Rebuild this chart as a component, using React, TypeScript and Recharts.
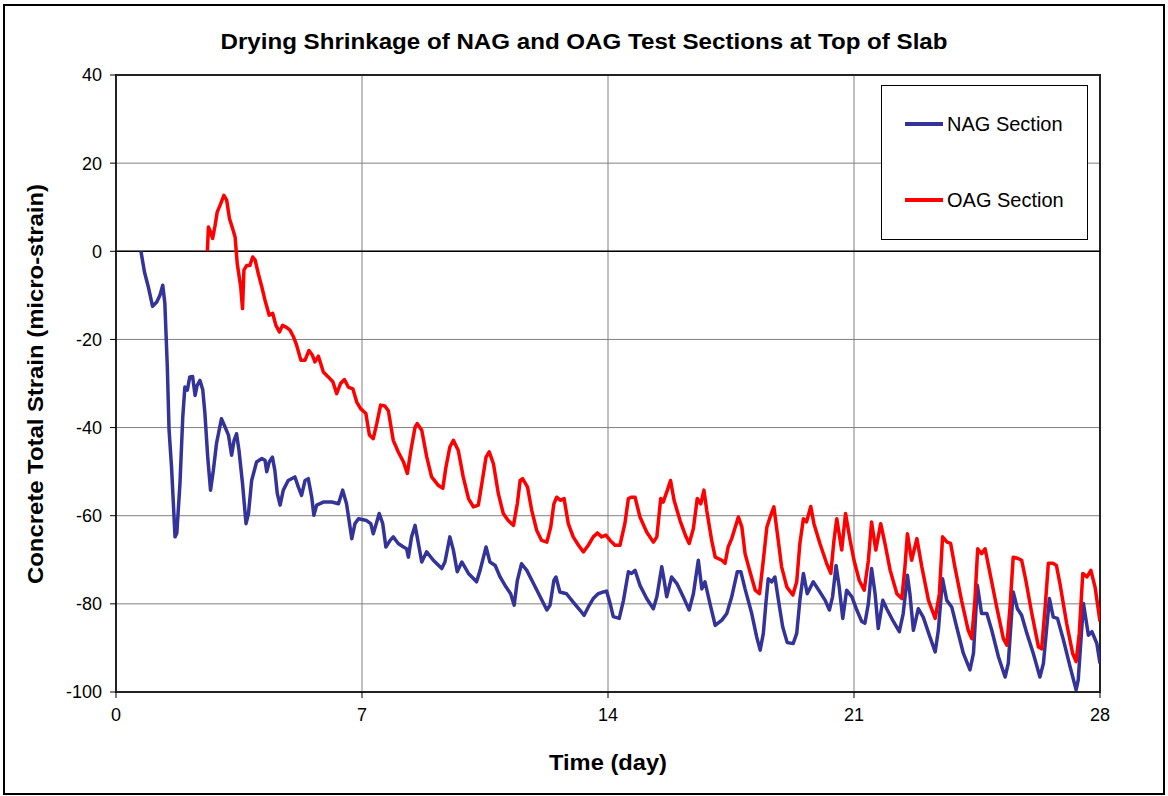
import React from 'react';
import { LineChart, Line, XAxis, YAxis, CartesianGrid, ReferenceLine, ReferenceArea, Legend } from 'recharts';

const nagDays = [
  0.71, 0.81, 0.92, 1.04, 1.16, 1.25, 1.33, 1.39, 1.46, 1.51, 1.58, 1.68, 1.73, 1.82, 1.9, 1.96, 2.03, 2.1, 2.18, 2.25,
  2.31, 2.39, 2.47, 2.53, 2.61, 2.69, 2.77, 2.86, 3.0, 3.1, 3.2, 3.29, 3.36, 3.43, 3.5, 3.6, 3.7, 3.77, 3.86, 4.0,
  4.15, 4.24, 4.29, 4.36, 4.45, 4.52, 4.59, 4.67, 4.76, 4.9, 5.09, 5.19, 5.28, 5.38, 5.47, 5.57, 5.63, 5.71, 5.9, 6.14,
  6.33, 6.45, 6.56, 6.71, 6.8, 6.9, 7.13, 7.25, 7.32, 7.42, 7.49, 7.59, 7.68, 7.8, 7.89, 8.03, 8.18, 8.27, 8.32, 8.41,
  8.51, 8.57, 8.7, 8.84, 9.03, 9.27, 9.36, 9.5, 9.6, 9.71, 9.84, 10.03, 10.26, 10.36, 10.53, 10.64, 10.79, 10.93, 11.1, 11.23,
  11.33, 11.42, 11.54, 11.69, 11.88, 12.07, 12.26, 12.35, 12.46, 12.52, 12.63, 12.82, 13.01, 13.2, 13.32, 13.44, 13.58, 13.72, 13.87, 13.96,
  14.06, 14.15, 14.32, 14.44, 14.58, 14.67, 14.77, 14.91, 15.1, 15.29, 15.39, 15.53, 15.59, 15.67, 15.81, 15.96, 16.14, 16.31, 16.43, 16.57,
  16.67, 16.76, 16.9, 17.05, 17.24, 17.38, 17.52, 17.68, 17.78, 17.9, 18.09, 18.23, 18.33, 18.42, 18.5, 18.56, 18.66, 18.75, 18.85, 18.97,
  19.1, 19.27, 19.37, 19.46, 19.56, 19.67, 19.84, 20.03, 20.18, 20.3, 20.39, 20.49, 20.58, 20.68, 20.79, 20.94, 21.08, 21.22, 21.31, 21.41,
  21.5, 21.6, 21.69, 21.82, 21.93, 22.12, 22.29, 22.4, 22.52, 22.59, 22.69, 22.83, 22.97, 23.16, 23.31, 23.4, 23.52, 23.64, 23.78, 23.92,
  24.11, 24.3, 24.4, 24.51, 24.63, 24.78, 24.92, 25.11, 25.3, 25.39, 25.53, 25.65, 25.77, 25.92, 26.1, 26.29, 26.39, 26.56, 26.67, 26.79,
  26.96, 27.15, 27.32, 27.38, 27.53, 27.67, 27.77, 27.91, 28.0,
];
const nagStrain = [
  0, -4.7, -8.1, -12.5, -11.5, -10, -7.7, -11.8, -26.2, -40.6, -48.9, -64.8, -64, -52.7, -37.6, -30.8, -31.5, -28.5, -28.4, -32.7,
  -30.4, -29.3, -31.5, -36.8, -46.7, -54.2, -49.7, -43.6, -38, -39.8, -41.7, -46.3, -42.9, -41.4, -45.2, -52.7, -61.8, -59.5, -52, -47.8,
  -47, -47.4, -50, -47.8, -46.7, -49.7, -55, -57.6, -54.2, -52, -51.2, -53.5, -55.4, -52, -51.6, -55.8, -59.9, -57.6, -56.9, -56.9,
  -57.3, -54.2, -57.3, -65.2, -61.8, -60.7, -61.1, -61.8, -64.1, -61.4, -59.5, -61.8, -67.1, -65.6, -64.8, -66.3, -67.1, -67.5, -69.4, -64.8,
  -62.2, -64.8, -70.5, -68.2, -70.1, -72, -70.5, -64.8, -67.8, -72.7, -70.5, -73.1, -75, -72.4, -67.1, -70.5, -71.3, -73.9, -76.2, -77.7,
  -80.3, -74.7, -70.9, -72.4, -75.4, -78.4, -81.4, -80.3, -74.7, -73.9, -77.3, -77.7, -79.6, -81.4, -82.6, -80.7, -78.8, -77.7, -77.3, -77.1,
  -79.9, -82.9, -83.3, -79.2, -72.7, -73.1, -72.4, -75.8, -78.8, -81.1, -78.4, -71.6, -74.3, -78.4, -73.9, -75.4, -78.4, -81.4, -77.7, -70.1,
  -76.6, -75, -79.9, -84.9, -83.7, -82.2, -78.4, -72.7, -72.7, -76.6, -82.2, -87.5, -90.5, -86.7, -79.2, -74.3, -75, -73.9, -79.2, -85.2,
  -88.8, -89, -86.7, -79.2, -73.1, -77.7, -75, -77.3, -79.2, -81.4, -78.4, -71.3, -76.2, -83.3, -76.9, -78.4, -81.4, -84, -84.4, -79.9,
  -72, -77.7, -85.6, -79.2, -81.1, -84, -86.3, -82.2, -73.5, -77.7, -86, -81.1, -83, -87.5, -90.9, -86, -74.3, -79.2, -80.7, -85.2,
  -91.2, -95, -91.2, -75.8, -82.2, -82.2, -86, -92, -96.6, -93.5, -77.3, -81.1, -82.6, -86.7, -91.2, -96.6, -93.5, -78.8, -83, -83.3,
  -88.2, -94.3, -99.5, -97.3, -79.9, -87.1, -86.3, -89, -93.5,
];

const oagDays = [
  2.6, 2.63, 2.67, 2.75, 2.82, 2.88, 2.98, 3.07, 3.15, 3.23, 3.32, 3.39, 3.45, 3.55, 3.6, 3.64, 3.72, 3.81, 3.89, 3.96,
  4.05, 4.15, 4.24, 4.36, 4.46, 4.55, 4.65, 4.74, 4.84, 4.95, 5.05, 5.14, 5.26, 5.38, 5.49, 5.59, 5.66, 5.76, 5.9, 6.04,
  6.17, 6.28, 6.39, 6.5, 6.61, 6.74, 6.85, 6.96, 7.11, 7.21, 7.32, 7.42, 7.53, 7.65, 7.75, 7.89, 8.03, 8.18, 8.29, 8.39,
  8.51, 8.57, 8.7, 8.84, 8.98, 9.17, 9.3, 9.39, 9.5, 9.6, 9.74, 9.88, 10.03, 10.17, 10.31, 10.41, 10.53, 10.62, 10.74, 10.88,
  11.02, 11.16, 11.31, 11.42, 11.5, 11.57, 11.71, 11.83, 11.97, 12.11, 12.26, 12.37, 12.46, 12.54, 12.65, 12.75, 12.87, 13.01, 13.16, 13.3,
  13.44, 13.58, 13.7, 13.82, 13.94, 14.06, 14.2, 14.34, 14.48, 14.58, 14.67, 14.77, 14.91, 15.1, 15.29, 15.39, 15.5, 15.57, 15.69, 15.78,
  15.88, 16.05, 16.22, 16.31, 16.43, 16.54, 16.64, 16.73, 16.81, 16.95, 17.05, 17.24, 17.33, 17.42, 17.52, 17.62, 17.71, 17.81, 17.9, 18.04,
  18.19, 18.31, 18.42, 18.52, 18.63, 18.72, 18.82, 18.94, 19.09, 19.26, 19.37, 19.46, 19.56, 19.65, 19.77, 19.86, 20.03, 20.22, 20.34, 20.43,
  20.51, 20.65, 20.76, 20.89, 21.0, 21.15, 21.29, 21.41, 21.5, 21.62, 21.76, 21.88, 22.03, 22.22, 22.36, 22.45, 22.52, 22.64, 22.79, 22.93,
  23.12, 23.31, 23.43, 23.52, 23.65, 23.75, 23.87, 24.06, 24.25, 24.35, 24.44, 24.52, 24.63, 24.73, 24.87, 25.06, 25.25, 25.35, 25.44, 25.53,
  25.67, 25.77, 25.89, 26.06, 26.25, 26.34, 26.44, 26.53, 26.67, 26.76, 26.86, 27.05, 27.22, 27.32, 27.41, 27.51, 27.63, 27.74, 27.86, 28.0,
];
const oagStrain = [
  0, 5.5, 4.8, 2.9, 5.9, 8.9, 10.8, 12.7, 11.6, 7.4, 5.1, 3.2, -2.8, -8.1, -13, -4.3, -3.2, -3.2, -1.3, -2,
  -5.1, -8.1, -11.1, -14.5, -14.1, -16.8, -18.3, -16.8, -17.2, -17.9, -19.4, -21.3, -24.7, -24.7, -22.5, -23.6, -25.1, -23.8, -27.4, -28.5,
  -29.6, -32.3, -30, -29.1, -30.8, -31.2, -34.2, -35.7, -36.8, -41.7, -42.5, -39.1, -34.9, -35.1, -36.2, -42.9, -45.5, -47.8, -50.4, -45.2,
  -39.9, -39.1, -40.6, -46.6, -51.2, -53.1, -53.8, -48.9, -44.4, -42.9, -45.2, -51.2, -56.1, -58, -57.6, -52.7, -46.7, -45.5, -48.2, -55,
  -59.5, -61.1, -62.2, -57.3, -52, -51.6, -53.5, -58.8, -63.3, -65.6, -66, -62.6, -57.3, -55.8, -56.5, -56.1, -61.8, -64.8, -66.7, -68.2,
  -66.7, -64.8, -63.9, -64.8, -64.4, -65.6, -66.7, -66.7, -61.8, -56.1, -55.8, -55.8, -60.3, -63.7, -66, -64.8, -56.1, -56.9, -54.2, -52,
  -56.5, -61.1, -64.8, -66.3, -62.9, -56.1, -57.3, -54.2, -58.8, -65.6, -69.4, -70.1, -70.8, -67.1, -65.2, -62.6, -60.3, -62.6, -68.6, -72.7,
  -76.9, -77.7, -70.1, -62.6, -59.9, -58, -64.1, -71.6, -76.2, -78, -75, -66.3, -60.7, -61.4, -57.9, -61.8, -66.3, -70.8, -73.1, -65.6,
  -60.7, -67.8, -59.5, -65.6, -70.1, -74.7, -76.9, -70.1, -61.4, -67.8, -61.8, -66.3, -72.4, -77.7, -78.8, -71.6, -64.1, -70.1, -65.2, -71.6,
  -79.2, -83.3, -77.7, -64.8, -66, -66.3, -71.6, -79.2, -86, -87.9, -79.2, -67.5, -68.6, -67.5, -73.1, -80.7, -87.9, -89.4, -80.7, -69.4,
  -69.7, -70.1, -74.7, -82.2, -89.8, -90.2, -80.7, -70.8, -70.8, -71.3, -75.4, -84.4, -91.2, -93.1, -86.7, -73.1, -73.9, -72.4, -76.2, -84,
];

const xTicks = [0, 7, 14, 21, 28];
const yTicks = [-100, -80, -60, -40, -20, 0, 20, 40];
const seriesNames = ['NAG Section', 'OAG Section'];
const seriesColors = ['#333399', '#ff0000'];
const titleText = 'Drying Shrinkage of NAG and OAG Test Sections at Top of Slab';
const xTitle = 'Time (day)';
const yTitle = 'Concrete Total Strain (micro-strain)';

const nagData = nagDays.map((d, i) => ({ day: d, strain: nagStrain[i] }));
const oagData = oagDays.map((d, i) => ({ day: d, strain: oagStrain[i] }));

const FONT = '"Liberation Sans", Arial, Helvetica, sans-serif';

const renderLegend = () => (
  <div
    style={{
      width: 207,
      height: 155,
      border: '1px solid #000',
      background: '#fff',
      boxSizing: 'border-box',
      fontFamily: FONT,
      fontSize: 20,
      color: '#000',
      position: 'relative',
    }}
  >
    {seriesNames.map((name, i) => (
      <div
        key={name}
        style={{
          position: 'absolute',
          left: 23,
          top: i === 0 ? 26 : 102,
          display: 'flex',
          alignItems: 'center',
          height: 24,
        }}
      >
        <div style={{ width: 38, height: 4, background: seriesColors[i], marginRight: 4 }} />
        <span>{name}</span>
      </div>
    ))}
  </div>
);

export default function App() {
  return (
    <div style={{ position: 'relative', width: 1168, height: 796, background: '#fff', overflow: 'hidden' }}>
      <style>{`body{margin:0;background:#fff;}`}</style>
      <div
        style={{
          position: 'absolute',
          left: 3,
          top: 4,
          width: 1158,
          height: 787,
          border: '2px solid #000',
        }}
      />
      <div style={{ position: 'absolute', left: 0, top: 0 }}>
        <LineChart
          width={1168}
          height={796}
          margin={{ top: 75, right: 68, left: 56, bottom: 64 }}
        >
          <CartesianGrid stroke="#808080" strokeWidth={1} />
          <XAxis
            type="number"
            dataKey="day"
            domain={[0, 28]}
            ticks={xTicks}
            allowDataOverflow
            height={40}
            tickSize={6}
            tickMargin={10}
            tick={{ fill: '#000', fontSize: 18, fontFamily: FONT }}
            tickLine={{ stroke: '#000' }}
            axisLine={{ stroke: '#222', strokeWidth: 2 }}
          />
          <YAxis
            type="number"
            domain={[-100, 40]}
            ticks={yTicks}
            allowDataOverflow
            width={60}
            tickSize={6}
            tickMargin={8}
            tick={{ fill: '#000', fontSize: 18, fontFamily: FONT }}
            tickLine={{ stroke: '#000' }}
            axisLine={{ stroke: '#222', strokeWidth: 2 }}
          />
          <ReferenceLine y={0} stroke="#000" strokeWidth={1.5} />
          <Line
            data={nagData}
            dataKey="strain"
            name={seriesNames[0]}
            type="linear"
            stroke={seriesColors[0]}
            strokeWidth={3.5}
            strokeLinejoin="round"
            dot={false}
            isAnimationActive={false}
          />
          <Line
            data={oagData}
            dataKey="strain"
            name={seriesNames[1]}
            type="linear"
            stroke={seriesColors[1]}
            strokeWidth={3.5}
            strokeLinejoin="round"
            dot={false}
            isAnimationActive={false}
          />
          <ReferenceArea x1={0} x2={28} y1={-100} y2={40} fill="none" stroke="#222" strokeWidth={2} fillOpacity={0} />
          <Legend
            layout="vertical"
            align="center"
            verticalAlign="middle"
            content={renderLegend}
            wrapperStyle={{ position: 'absolute', left: 881, top: 85, width: 207, height: 155 }}
          />
        </LineChart>
      </div>
      <svg
        width={1168}
        height={796}
        style={{ position: 'absolute', left: 0, top: 0, pointerEvents: 'none' }}
      >
        <text
          x={584}
          y={49}
          textAnchor="middle"
          fontFamily={FONT}
          fontWeight="bold"
          fontSize={22}
          textLength={727}
          lengthAdjust="spacingAndGlyphs"
          fill="#000"
        >
          {titleText}
        </text>
        <text
          x={608}
          y={770}
          textAnchor="middle"
          fontFamily={FONT}
          fontWeight="bold"
          fontSize={22}
          textLength={118}
          lengthAdjust="spacingAndGlyphs"
          fill="#000"
        >
          {xTitle}
        </text>
        <text
          x={0}
          y={0}
          transform="translate(43,384) rotate(-90)"
          textAnchor="middle"
          fontFamily={FONT}
          fontWeight="bold"
          fontSize={22}
          textLength={400}
          lengthAdjust="spacingAndGlyphs"
          fill="#000"
        >
          {yTitle}
        </text>
      </svg>
    </div>
  );
}
